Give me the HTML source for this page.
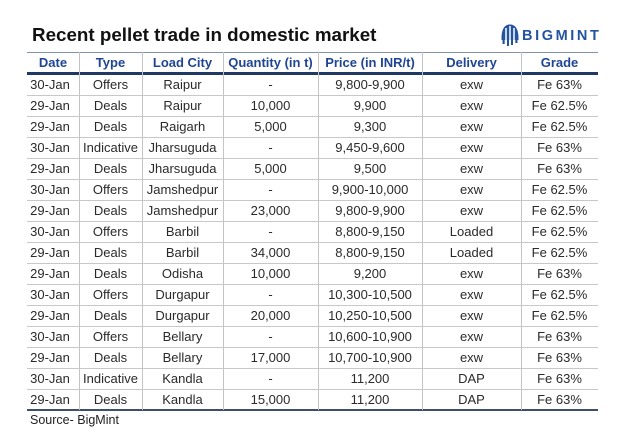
<!DOCTYPE html>
<html><head><meta charset="utf-8">
<style>
html,body{margin:0;padding:0;background:#fff;}
body{width:631px;height:432px;position:relative;overflow:hidden;font-family:"Liberation Sans",Arial,sans-serif;}
.title{position:absolute;left:32px;top:22px;font-size:18.8px;font-weight:bold;color:#111;white-space:nowrap;line-height:26px;}
.logo{position:absolute;left:522px;top:28px;font-size:14.5px;font-weight:bold;color:#2454a0;letter-spacing:2.6px;line-height:16px;white-space:nowrap;}
.hl{position:absolute;left:27px;width:571px;}
.vl{position:absolute;top:52px;height:358px;width:1px;background:#c4c4c4;}
.row{position:absolute;left:27px;width:571px;height:21px;}
.c{position:absolute;top:0;height:21px;line-height:21px;text-align:center;font-size:13px;color:#2a2a2a;white-space:nowrap;}
.h .c{font-weight:bold;color:#1f4594;height:21px;line-height:21px;}
.src{position:absolute;left:30px;top:413px;font-size:12.5px;color:#222;line-height:14px;}
</style></head><body>
<div class="title">Recent pellet trade in domestic market</div>
<svg style="position:absolute;left:500px;top:23px" width="20" height="24" viewBox="0 0 20 24">
  <path d="M1.5 15 C1.5 5 5.5 1.5 10 1.5 C14.5 1.5 18.5 5 18.5 15 L18.5 17 L1.5 17 Z" fill="#2454a0"/>
  <path d="M6 5 L6 17" stroke="#fff" stroke-width="1.5"/>
  <path d="M10 3 L10 17" stroke="#fff" stroke-width="1.5"/>
  <path d="M14 5 L14 17" stroke="#fff" stroke-width="1.5"/>
  <rect x="2.5" y="17" width="2.2" height="4" fill="#2454a0"/>
  <rect x="7" y="17" width="2" height="6" fill="#2454a0"/>
  <rect x="11" y="17" width="2" height="5" fill="#2454a0"/>
  <rect x="15.3" y="17" width="2.2" height="3" fill="#2454a0"/>
</svg>
<div class="logo">BIGMINT</div>

<div class="hl" style="top:52px;height:1px;background:#7f93ad;"></div>
<div class="hl" style="top:72px;height:2.5px;background:#1f3864;"></div>
<div class="hl" style="top:409px;height:1.5px;background:#3d5068;"></div>

<div class="vl" style="left:79px"></div>
<div class="vl" style="left:142px"></div>
<div class="vl" style="left:223px"></div>
<div class="vl" style="left:318px"></div>
<div class="vl" style="left:422px"></div>
<div class="vl" style="left:521px"></div>

<div class="row h" style="top:52px">
<div class="c" style="left:0;width:52px">Date</div>
<div class="c" style="left:52px;width:63px">Type</div>
<div class="c" style="left:115px;width:81px">Load City</div>
<div class="c" style="left:196px;width:95px">Quantity (in t)</div>
<div class="c" style="left:291px;width:104px">Price (in INR/t)</div>
<div class="c" style="left:395px;width:99px">Delivery</div>
<div class="c" style="left:494px;width:77px">Grade</div>
</div>

<div class="row" style="top:74px"><div class="c" style="left:0;width:46px">30-Jan</div><div class="c" style="left:52px;width:63px">Offers</div><div class="c" style="left:115px;width:81px">Raipur</div><div class="c" style="left:196px;width:95px">-</div><div class="c" style="left:291px;width:104px">9,800-9,900</div><div class="c" style="left:395px;width:99px">exw</div><div class="c" style="left:494px;width:77px">Fe 63%</div></div>
<div class="hl" style="top:95px;height:1px;background:#c8c8c8"></div>
<div class="row" style="top:95px"><div class="c" style="left:0;width:46px">29-Jan</div><div class="c" style="left:52px;width:63px">Deals</div><div class="c" style="left:115px;width:81px">Raipur</div><div class="c" style="left:196px;width:95px">10,000</div><div class="c" style="left:291px;width:104px">9,900</div><div class="c" style="left:395px;width:99px">exw</div><div class="c" style="left:494px;width:77px">Fe 62.5%</div></div>
<div class="hl" style="top:116px;height:1px;background:#c8c8c8"></div>
<div class="row" style="top:116px"><div class="c" style="left:0;width:46px">29-Jan</div><div class="c" style="left:52px;width:63px">Deals</div><div class="c" style="left:115px;width:81px">Raigarh</div><div class="c" style="left:196px;width:95px">5,000</div><div class="c" style="left:291px;width:104px">9,300</div><div class="c" style="left:395px;width:99px">exw</div><div class="c" style="left:494px;width:77px">Fe 62.5%</div></div>
<div class="hl" style="top:137px;height:1px;background:#c8c8c8"></div>
<div class="row" style="top:137px"><div class="c" style="left:0;width:46px">30-Jan</div><div class="c" style="left:52px;width:63px">Indicative</div><div class="c" style="left:115px;width:81px">Jharsuguda</div><div class="c" style="left:196px;width:95px">-</div><div class="c" style="left:291px;width:104px">9,450-9,600</div><div class="c" style="left:395px;width:99px">exw</div><div class="c" style="left:494px;width:77px">Fe 63%</div></div>
<div class="hl" style="top:158px;height:1px;background:#c8c8c8"></div>
<div class="row" style="top:158px"><div class="c" style="left:0;width:46px">29-Jan</div><div class="c" style="left:52px;width:63px">Deals</div><div class="c" style="left:115px;width:81px">Jharsuguda</div><div class="c" style="left:196px;width:95px">5,000</div><div class="c" style="left:291px;width:104px">9,500</div><div class="c" style="left:395px;width:99px">exw</div><div class="c" style="left:494px;width:77px">Fe 63%</div></div>
<div class="hl" style="top:179px;height:1px;background:#c8c8c8"></div>
<div class="row" style="top:179px"><div class="c" style="left:0;width:46px">30-Jan</div><div class="c" style="left:52px;width:63px">Offers</div><div class="c" style="left:115px;width:81px">Jamshedpur</div><div class="c" style="left:196px;width:95px">-</div><div class="c" style="left:291px;width:104px">9,900-10,000</div><div class="c" style="left:395px;width:99px">exw</div><div class="c" style="left:494px;width:77px">Fe 62.5%</div></div>
<div class="hl" style="top:200px;height:1px;background:#c8c8c8"></div>
<div class="row" style="top:200px"><div class="c" style="left:0;width:46px">29-Jan</div><div class="c" style="left:52px;width:63px">Deals</div><div class="c" style="left:115px;width:81px">Jamshedpur</div><div class="c" style="left:196px;width:95px">23,000</div><div class="c" style="left:291px;width:104px">9,800-9,900</div><div class="c" style="left:395px;width:99px">exw</div><div class="c" style="left:494px;width:77px">Fe 62.5%</div></div>
<div class="hl" style="top:221px;height:1px;background:#c8c8c8"></div>
<div class="row" style="top:221px"><div class="c" style="left:0;width:46px">30-Jan</div><div class="c" style="left:52px;width:63px">Offers</div><div class="c" style="left:115px;width:81px">Barbil</div><div class="c" style="left:196px;width:95px">-</div><div class="c" style="left:291px;width:104px">8,800-9,150</div><div class="c" style="left:395px;width:99px">Loaded</div><div class="c" style="left:494px;width:77px">Fe 62.5%</div></div>
<div class="hl" style="top:242px;height:1px;background:#c8c8c8"></div>
<div class="row" style="top:242px"><div class="c" style="left:0;width:46px">29-Jan</div><div class="c" style="left:52px;width:63px">Deals</div><div class="c" style="left:115px;width:81px">Barbil</div><div class="c" style="left:196px;width:95px">34,000</div><div class="c" style="left:291px;width:104px">8,800-9,150</div><div class="c" style="left:395px;width:99px">Loaded</div><div class="c" style="left:494px;width:77px">Fe 62.5%</div></div>
<div class="hl" style="top:263px;height:1px;background:#c8c8c8"></div>
<div class="row" style="top:263px"><div class="c" style="left:0;width:46px">29-Jan</div><div class="c" style="left:52px;width:63px">Deals</div><div class="c" style="left:115px;width:81px">Odisha</div><div class="c" style="left:196px;width:95px">10,000</div><div class="c" style="left:291px;width:104px">9,200</div><div class="c" style="left:395px;width:99px">exw</div><div class="c" style="left:494px;width:77px">Fe 63%</div></div>
<div class="hl" style="top:284px;height:1px;background:#c8c8c8"></div>
<div class="row" style="top:284px"><div class="c" style="left:0;width:46px">30-Jan</div><div class="c" style="left:52px;width:63px">Offers</div><div class="c" style="left:115px;width:81px">Durgapur</div><div class="c" style="left:196px;width:95px">-</div><div class="c" style="left:291px;width:104px">10,300-10,500</div><div class="c" style="left:395px;width:99px">exw</div><div class="c" style="left:494px;width:77px">Fe 62.5%</div></div>
<div class="hl" style="top:305px;height:1px;background:#c8c8c8"></div>
<div class="row" style="top:305px"><div class="c" style="left:0;width:46px">29-Jan</div><div class="c" style="left:52px;width:63px">Deals</div><div class="c" style="left:115px;width:81px">Durgapur</div><div class="c" style="left:196px;width:95px">20,000</div><div class="c" style="left:291px;width:104px">10,250-10,500</div><div class="c" style="left:395px;width:99px">exw</div><div class="c" style="left:494px;width:77px">Fe 62.5%</div></div>
<div class="hl" style="top:326px;height:1px;background:#c8c8c8"></div>
<div class="row" style="top:326px"><div class="c" style="left:0;width:46px">30-Jan</div><div class="c" style="left:52px;width:63px">Offers</div><div class="c" style="left:115px;width:81px">Bellary</div><div class="c" style="left:196px;width:95px">-</div><div class="c" style="left:291px;width:104px">10,600-10,900</div><div class="c" style="left:395px;width:99px">exw</div><div class="c" style="left:494px;width:77px">Fe 63%</div></div>
<div class="hl" style="top:347px;height:1px;background:#c8c8c8"></div>
<div class="row" style="top:347px"><div class="c" style="left:0;width:46px">29-Jan</div><div class="c" style="left:52px;width:63px">Deals</div><div class="c" style="left:115px;width:81px">Bellary</div><div class="c" style="left:196px;width:95px">17,000</div><div class="c" style="left:291px;width:104px">10,700-10,900</div><div class="c" style="left:395px;width:99px">exw</div><div class="c" style="left:494px;width:77px">Fe 63%</div></div>
<div class="hl" style="top:368px;height:1px;background:#c8c8c8"></div>
<div class="row" style="top:368px"><div class="c" style="left:0;width:46px">30-Jan</div><div class="c" style="left:52px;width:63px">Indicative</div><div class="c" style="left:115px;width:81px">Kandla</div><div class="c" style="left:196px;width:95px">-</div><div class="c" style="left:291px;width:104px">11,200</div><div class="c" style="left:395px;width:99px">DAP</div><div class="c" style="left:494px;width:77px">Fe 63%</div></div>
<div class="hl" style="top:389px;height:1px;background:#c8c8c8"></div>
<div class="row" style="top:389px"><div class="c" style="left:0;width:46px">29-Jan</div><div class="c" style="left:52px;width:63px">Deals</div><div class="c" style="left:115px;width:81px">Kandla</div><div class="c" style="left:196px;width:95px">15,000</div><div class="c" style="left:291px;width:104px">11,200</div><div class="c" style="left:395px;width:99px">DAP</div><div class="c" style="left:494px;width:77px">Fe 63%</div></div>

<div class="src">Source- BigMint</div>
</body></html>
